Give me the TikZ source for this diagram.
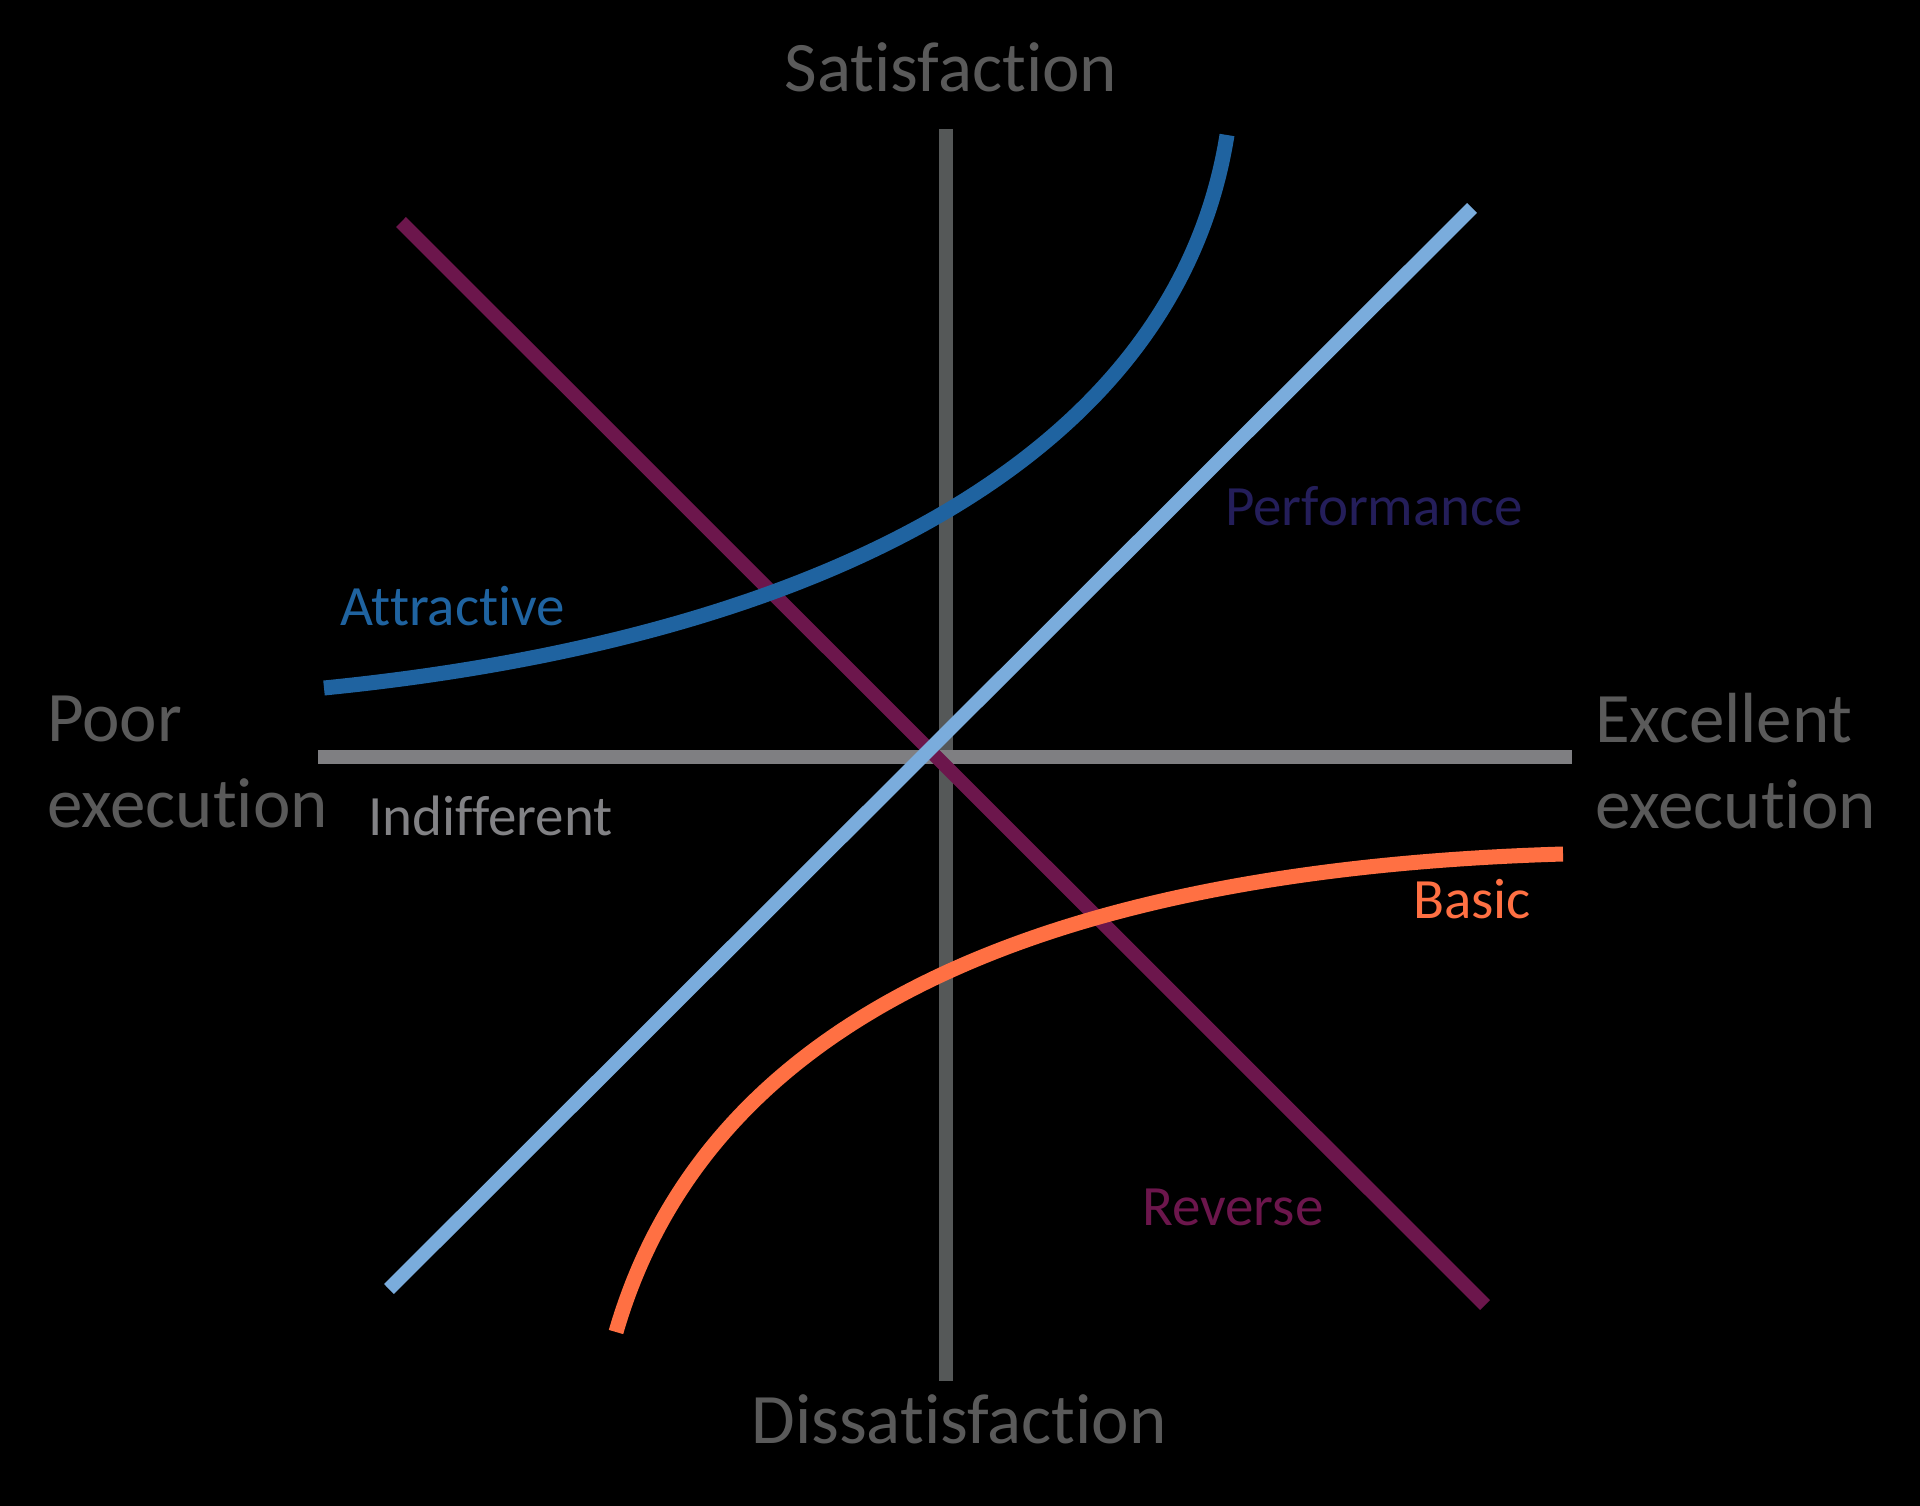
\documentclass[tikz,border=0pt]{standalone}
\usepackage{fontspec}
\setmainfont{Carlito}[Ligatures=NoCommon]
\definecolor{labelgray}{RGB}{90,90,90}
\definecolor{vaxis}{RGB}{85,88,88}
\definecolor{haxis}{RGB}{127,127,130}
\definecolor{indiff}{RGB}{130,130,133}
\definecolor{attract}{RGB}{31,99,160}
\definecolor{perftext}{RGB}{36,30,90}
\definecolor{perfline}{RGB}{122,172,220}
\definecolor{revcol}{RGB}{108,22,76}
\definecolor{basiccol}{RGB}{255,112,67}
\begin{document}
\begin{tikzpicture}[x=1pt,y=-1pt,
    axislabel/.style={inner sep=0pt,text=labelgray,font=\fontsize{71}{86}\selectfont},
    typelabel/.style={inner sep=0pt,anchor=base west,font=\fontsize{57}{68}\selectfont},
    axis/.style={line width=14pt},
    curve/.style={line width=15pt}]
  \fill[black] (0,0) rectangle (1920,1506);
  \useasboundingbox (0,0) rectangle (1920,1506);
  \draw
    (951,92) node[axislabel,anchor=base] (sat){Satisfaction}
    (959,1443) node[axislabel,anchor=base] (dis){Dissatisfaction}
    (47,827) node[axislabel,anchor=base west,align=left] (poor){Poor\\execution}
    (1595,828) node[axislabel,anchor=base west,align=left] (exc){Excellent\\execution}
    (368,835) node[typelabel,text=indiff] (ind){Indifferent}
    (340,625) node[typelabel,text=attract] (att){Attractive}
    (1225,525) node[typelabel,text=perftext] (perf){Performance}
    (1413,918) node[typelabel,text=basiccol] (bas){Basic}
    (1142,1225) node[typelabel,text=revcol] (rev){Reverse};
  \coordinate (top) at (946,129);
  \coordinate (bottom) at (946,1381);
  \coordinate (left) at (318,757);
  \coordinate (right) at (1572,757);
  \coordinate (rev1) at (401,222);
  \coordinate (rev2) at (1485,1305);
  \coordinate (perf1) at (389,1289);
  \coordinate (perf2) at (1472,208);
  \coordinate (att1) at (324,688);
  \coordinate (att2) at (1227,135);
  \coordinate (bas1) at (616,1332);
  \coordinate (bas2) at (1563,854);
  \draw[axis,vaxis] (top) -- (bottom);
  \draw[axis,haxis] (left) -- (right);
  \draw[axis,revcol] (rev1) -- (rev2);
  \draw[curve,attract] (att1) .. controls (824,638) and (1176,455) .. (att2);
  \draw[curve,basiccol] (bas1) .. controls (717.5,982) and (1113,867.5) .. (bas2);
  \draw[axis,perfline] (perf1) -- (perf2);
\end{tikzpicture}
\end{document}
